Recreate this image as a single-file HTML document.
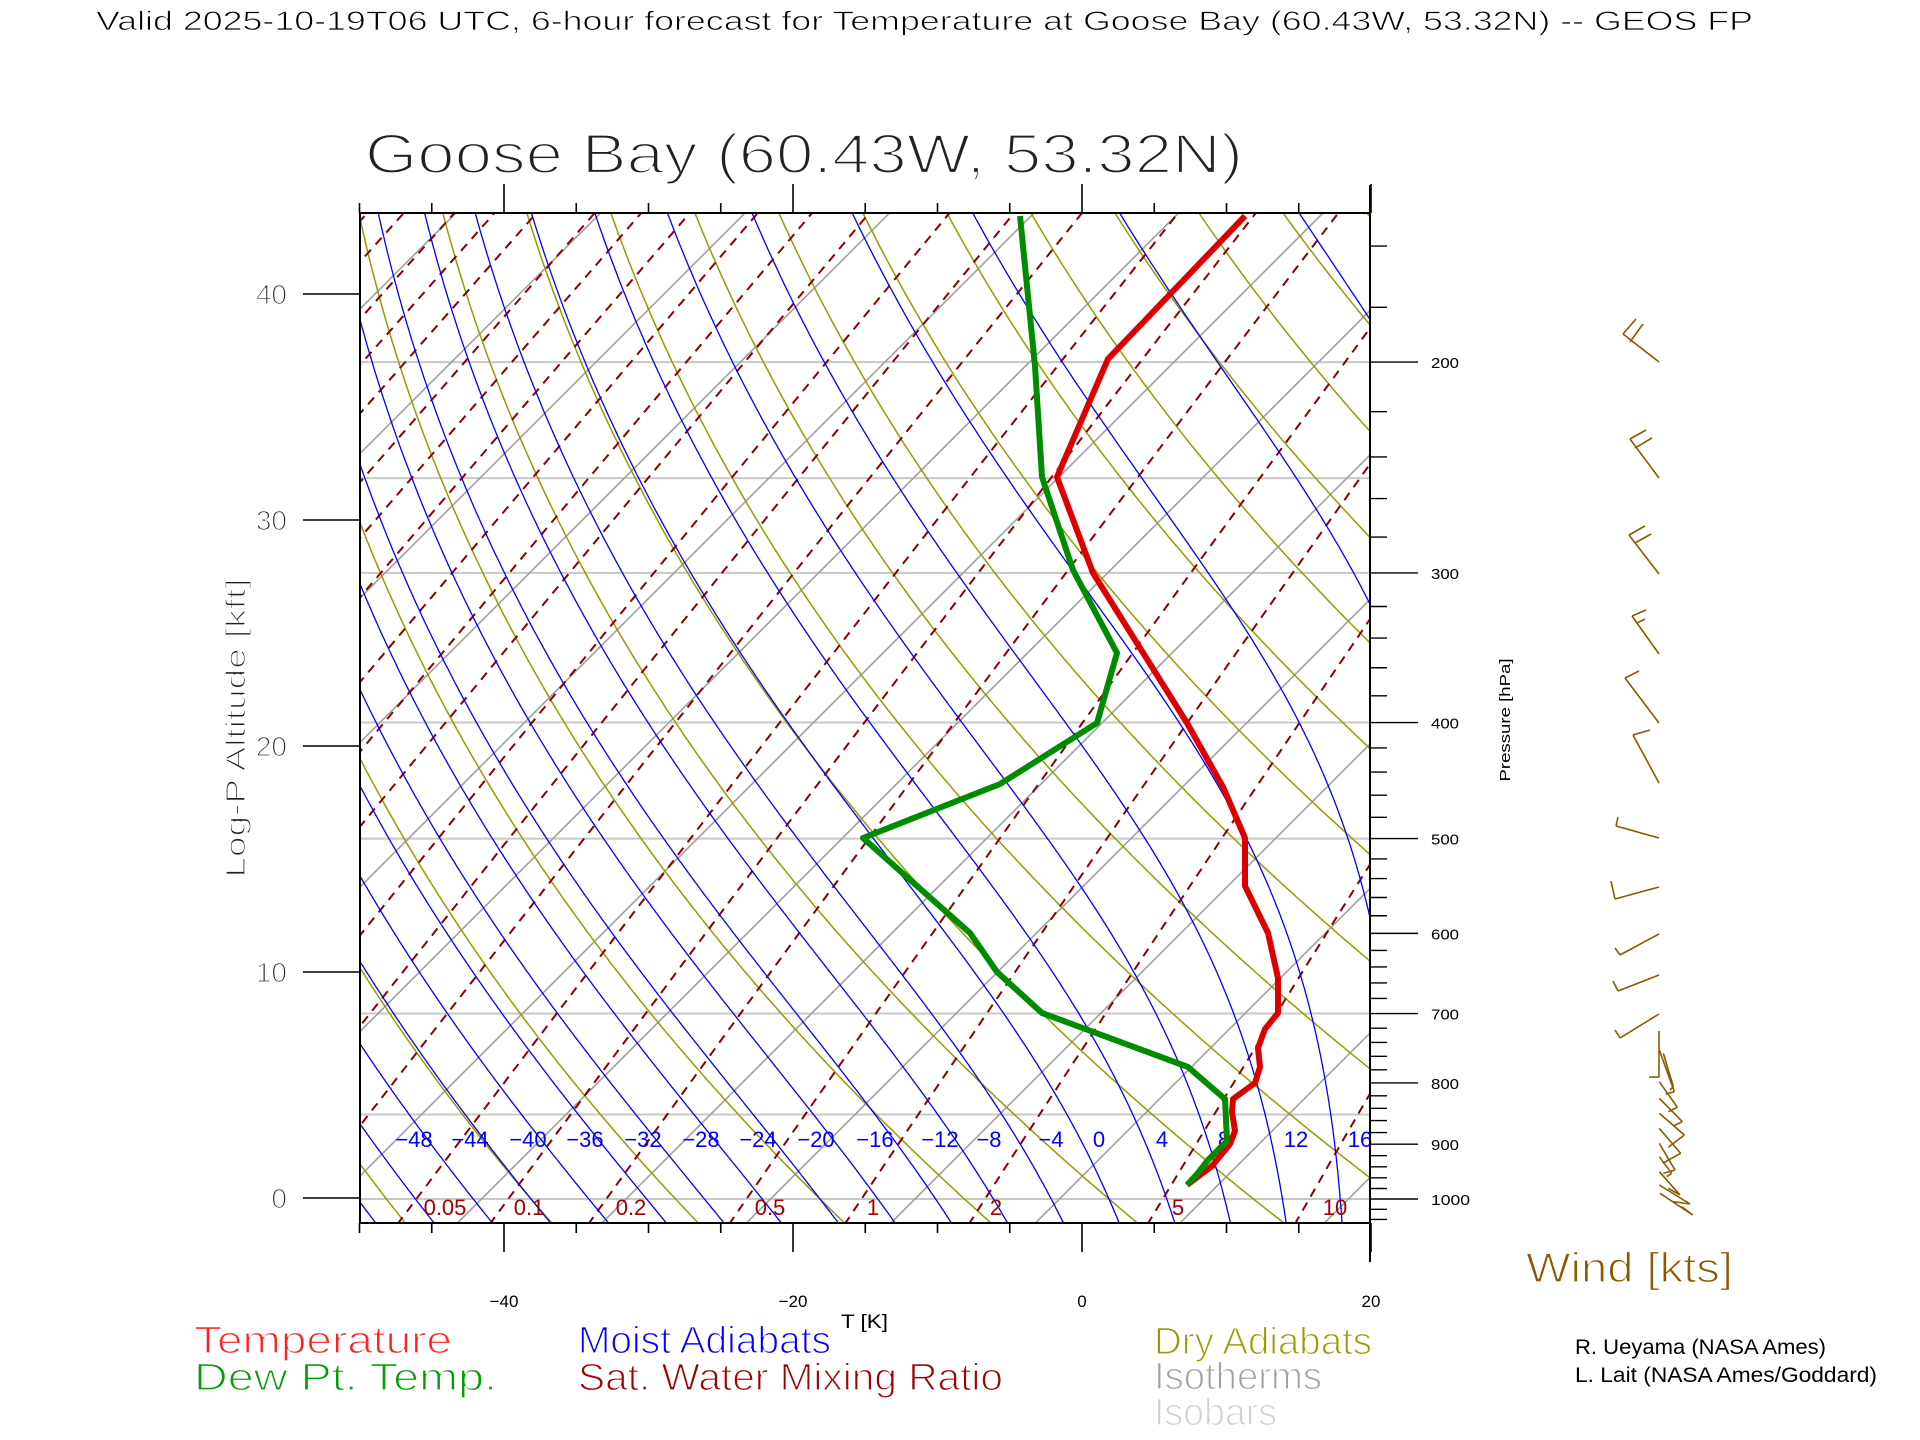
<!DOCTYPE html>
<html><head><meta charset="utf-8"><style>
html,body{margin:0;padding:0;background:#fff;}
svg{display:block;}
text{font-family:"Liberation Sans",sans-serif;}
.th{stroke:#fff;stroke-width:1.3px;paint-order:normal;}
.th2{stroke:#fff;stroke-width:2.2px;paint-order:normal;}
</style></head><body>
<svg id="s" width="1920" height="1440" viewBox="0 0 1920 1440" xmlns="http://www.w3.org/2000/svg">
<defs><clipPath id="c"><rect x="360" y="213" width="1010" height="1010"/></clipPath></defs>
<rect width="1920" height="1440" fill="#fff"/>
<g id="bg" clip-path="url(#c)"></g>
<g id="fg"></g>
<text x="96" y="30" font-size="27" textLength="1657" lengthAdjust="spacingAndGlyphs" class="th" style="stroke-width:0.8px">Valid 2025-10-19T06 UTC, 6-hour forecast for Temperature at Goose Bay (60.43W, 53.32N) -- GEOS FP</text>
<text x="365" y="173" font-size="56" textLength="878" lengthAdjust="spacingAndGlyphs" fill="#222" class="th2">Goose Bay (60.43W, 53.32N)</text>
<text transform="translate(245,728) rotate(-90)" text-anchor="middle" font-size="28" textLength="299" lengthAdjust="spacingAndGlyphs" fill="#222" class="th">Log-P Altitude [kft]</text>
<text transform="translate(1510,720) rotate(-90)" text-anchor="middle" font-size="15" textLength="123" lengthAdjust="spacingAndGlyphs">Pressure [hPa]</text>
<text x="841" y="1328" font-size="19" textLength="47" lengthAdjust="spacingAndGlyphs">T [K]</text>
<text x="194" y="1353" font-size="38" fill="#ff2020" textLength="258" lengthAdjust="spacingAndGlyphs" class="th">Temperature</text>
<text x="194" y="1390" font-size="38" fill="#00a000" textLength="303" lengthAdjust="spacingAndGlyphs" class="th">Dew Pt. Temp.</text>
<text x="578" y="1353" font-size="38" fill="#0000ff" textLength="253" lengthAdjust="spacingAndGlyphs" class="th">Moist Adiabats</text>
<text x="578" y="1390" font-size="38" fill="#a00000" textLength="425" lengthAdjust="spacingAndGlyphs" class="th">Sat. Water Mixing Ratio</text>
<text x="1154" y="1354" font-size="38" fill="#9a9a00" textLength="218" lengthAdjust="spacingAndGlyphs" class="th">Dry Adiabats</text>
<text x="1154" y="1389" font-size="38" fill="#a0a0a0" textLength="168" lengthAdjust="spacingAndGlyphs" class="th">Isotherms</text>
<text x="1154" y="1425" font-size="38" fill="#d0d0d0" textLength="123" lengthAdjust="spacingAndGlyphs" class="th">Isobars</text>
<text x="1526" y="1282" font-size="42" fill="#8b5a00" textLength="207" lengthAdjust="spacingAndGlyphs" class="th">Wind [kts]</text>
<text x="1575" y="1354" font-size="21" textLength="251" lengthAdjust="spacingAndGlyphs">R. Ueyama (NASA Ames)</text>
<text x="1575" y="1382" font-size="21" textLength="302" lengthAdjust="spacingAndGlyphs">L. Lait (NASA Ames/Goddard)</text>
</svg>
<script>
(function(){
var bg=document.getElementById('bg'),fg=document.getElementById('fg');
var B=[],F=[];
function Y(p){return 1199-520*Math.log(1000/p);}
function X(T,y){return 1109+14.45*T+(1199-y);}
function pl(pts,st){var s=pts.map(function(a){return a[0].toFixed(1)+','+a[1].toFixed(1)}).join(' ');return '<polyline fill="none" points="'+s+'" '+st+'/>';}
function ln(x1,y1,x2,y2,st){return '<line x1="'+x1+'" y1="'+y1+'" x2="'+x2+'" y2="'+y2+'" '+st+'/>';}
[1000,850,700,500,400,300,250,200,150].forEach(function(p){var y=Y(p);B.push(ln(360,y,1370,y,'stroke="#c8c8c8" stroke-width="2"'));});
for(var k=-14;k<=4;k++){var x0=1180+144.5*k;B.push(ln(x0,1223,x0+1010,213,'stroke="#a0a0a0" stroke-width="1.6"'));}
for(var th=213.15;th<=413.15;th+=10){var pts=[];for(var p=1050;p>=145;p-=5){var T=th*Math.pow(p/1000,0.286)-273.15;var y=Y(p);pts.push([X(T,y),y]);}B.push(pl(pts,'stroke="#9a9a00" stroke-width="1.5"'));}
function es(Tc){return 6.112*Math.exp(17.67*Tc/(Tc+243.5));}
var ws=[];var base=[1,2,5];for(var e=-9;e<=1;e++)base.forEach(function(b){ws.push(b*Math.pow(10,e));});
ws.forEach(function(w){var pts=[];for(var p=1050;p>=145;p-=10){var e=w*p/(622+w);var l=Math.log(e/6.112);var Td=243.5*l/(17.67-l);var y=Y(p);pts.push([X(Td,y),y]);}B.push(pl(pts,'stroke="#8b0000" stroke-width="2" stroke-dasharray="9,7"'));});
function dTdp(T,p){var Tc=T-273.15;var e=es(Tc);var rs=0.622*e/(p-e);return (287*T+2.5e6*rs)/(p*(1004+2.5e6*2.5e6*rs*0.622/(287*T*T)));}
for(var tw=-64;tw<=44;tw+=4){var up=[],T=tw+273.15,p;for(p=1000;p>=145;p-=2){var y=Y(p);up.push([X(T-273.15,y),y]);T-=dTdp(T,p)*2;}
var dn=[];T=tw+273.15;for(p=1000;p<=1052;p+=2){var y2=Y(p);dn.unshift([X(T-273.15,y2),y2]);T+=dTdp(T,p)*2;}
B.push(pl(dn.concat(up),'stroke="#0000ff" stroke-width="1.3"'));}
bg.innerHTML=B.join('');
var ml=[[-48,414],[-44,470],[-40,528],[-36,585],[-32,643],[-28,701],[-24,758],[-20,816],[-16,875],[-12,940],[-8,989],[-4,1051],[0,1099],[4,1162],[8,1224],[12,1296],[16,1360]];
ml.forEach(function(a){F.push('<text x="'+a[1]+'" y="1147" font-size="22" fill="#0000ff" text-anchor="middle">'+(a[0]<0?'\u2212'+(-a[0]):a[0])+'</text>');});
var wl=[['0.05',445],['0.1',529],['0.2',631],['0.5',770],['1',873],['2',996],['5',1178],['10',1335]];
wl.forEach(function(a){F.push('<text x="'+a[1]+'" y="1215" font-size="22" fill="#a00000" text-anchor="middle">'+a[0]+'</text>');});
F.push('<rect x="360" y="213" width="1010" height="1010" fill="none" stroke="#000" stroke-width="2"/>');
F.push(ln(1370,185,1370,1262,'stroke="#000" stroke-width="2"'));
for(var t=-50;t<=20;t+=5){var x=1082+14.45*t;var maj=(t%20==0);F.push(ln(x,213,x,maj?184:203,'stroke="#000" stroke-width="1.6"'));F.push(ln(x,1223,x,maj?1252:1233,'stroke="#000" stroke-width="1.6"'));
if(maj)F.push('<text x="'+x+'" y="1307" font-size="17" text-anchor="middle">'+(t<0?'\u2212'+(-t):t)+'</text>');}
for(var a=0;a<=40;a+=10){var y=1198-22.6*a;F.push(ln(303,y,361,y,'stroke="#000" stroke-width="1.6"'));F.push('<text x="287" y="'+(y+10)+'" font-size="28" text-anchor="end" fill="#222" class="th">'+a+'</text>');}
for(var p=160;p<=1040;p+=20){var y=Y(p);if(y<213)continue;var maj=(p%100==0);F.push(ln(1370,y,maj?1418:1387,y,'stroke="#000" stroke-width="1.4"'));
if(maj&&p>=200)F.push('<text x="1431" y="'+(y+6)+'" font-size="15" textLength="'+(p==1000?39:28)+'" lengthAdjust="spacingAndGlyphs">'+p+'</text>');}
var red=[[1245,216],[1108,359],[1057,477],[1093,573],[1187,723],[1223,787],[1245,838],[1245,886],[1268,933],[1278,978],[1278,1013],[1265,1029],[1258,1048],[1260,1067],[1255,1083],[1233,1099],[1232,1112],[1235,1131],[1230,1144],[1212,1166],[1187,1185]];
var grn=[[1020,216],[1035,366],[1042,477],[1073,570],[1117,653],[1097,723],[1000,784],[863,838],[970,933],[997,972],[1042,1013],[1188,1067],[1225,1099],[1227,1141],[1208,1160],[1198,1173],[1187,1185]];
F.push(pl(red,'stroke="#dd0000" stroke-width="6" stroke-linejoin="round"'));
F.push(pl(grn,'stroke="#008c00" stroke-width="6" stroke-linejoin="round"'));
var W='stroke="#8b5a00" stroke-width="1.6" fill="none"';
var barbs=[
[[1659,362],[1623,334],[[1623,334,1636,319],[1630,342,1643,324]]],
[[1659,478],[1630,439],[[1630,439,1646,430],[1635,448,1652,438]]],
[[1659,574],[1629,535],[[1629,535,1645,526],[1635,543,1651,534]]],
[[1659,654],[1632,616],[[1632,616,1646,610],[1637,623,1645,619]]],
[[1659,723],[1625,678],[[1625,678,1639,671]]],
[[1659,783],[1633,735],[[1633,735,1650,730]]],
[[1659,838],[1616,826],[[1616,826,1618,817]]],
[[1659,887],[1615,899],[[1615,899,1611,881]]],
[[1659,934],[1620,955],[[1620,955,1615,948]]],
[[1659,975],[1618,991],[[1618,991,1613,981]]],
[[1659,1014],[1620,1038],[[1620,1038,1615,1030]]],
[[1659,1031],[1659,1077],[[1659,1077,1649,1077]]]];
barbs.forEach(function(b){F.push(ln(b[0][0],b[0][1],b[1][0],b[1][1],W));b[2].forEach(function(c){F.push(ln(c[0],c[1],c[2],c[3],W));});});
var cl=[[118,90,163,215,137,222],[118,185,172,262,145,275],[118,235,187,305,160,318],[118,280,193,345,145,382],[118,325,182,400,128,430],[118,370,165,450,130,460],[118,410,155,460,140,470],[118,455,180,525,145,505],[118,495,210,552,160,545],[130,100,160,200,150,210],[120,520,218,585,185,560]];
cl.forEach(function(c){var f=function(zx,zy){return [1620+zx/3,1020+zy/3];};var a=f(c[0],c[1]),b=f(c[2],c[3]),d=f(c[4],c[5]);F.push(ln(a[0],a[1],b[0],b[1],W));F.push(ln(b[0],b[1],d[0],d[1],W));});
fg.innerHTML=F.join('');
})();
</script>
</body></html>
